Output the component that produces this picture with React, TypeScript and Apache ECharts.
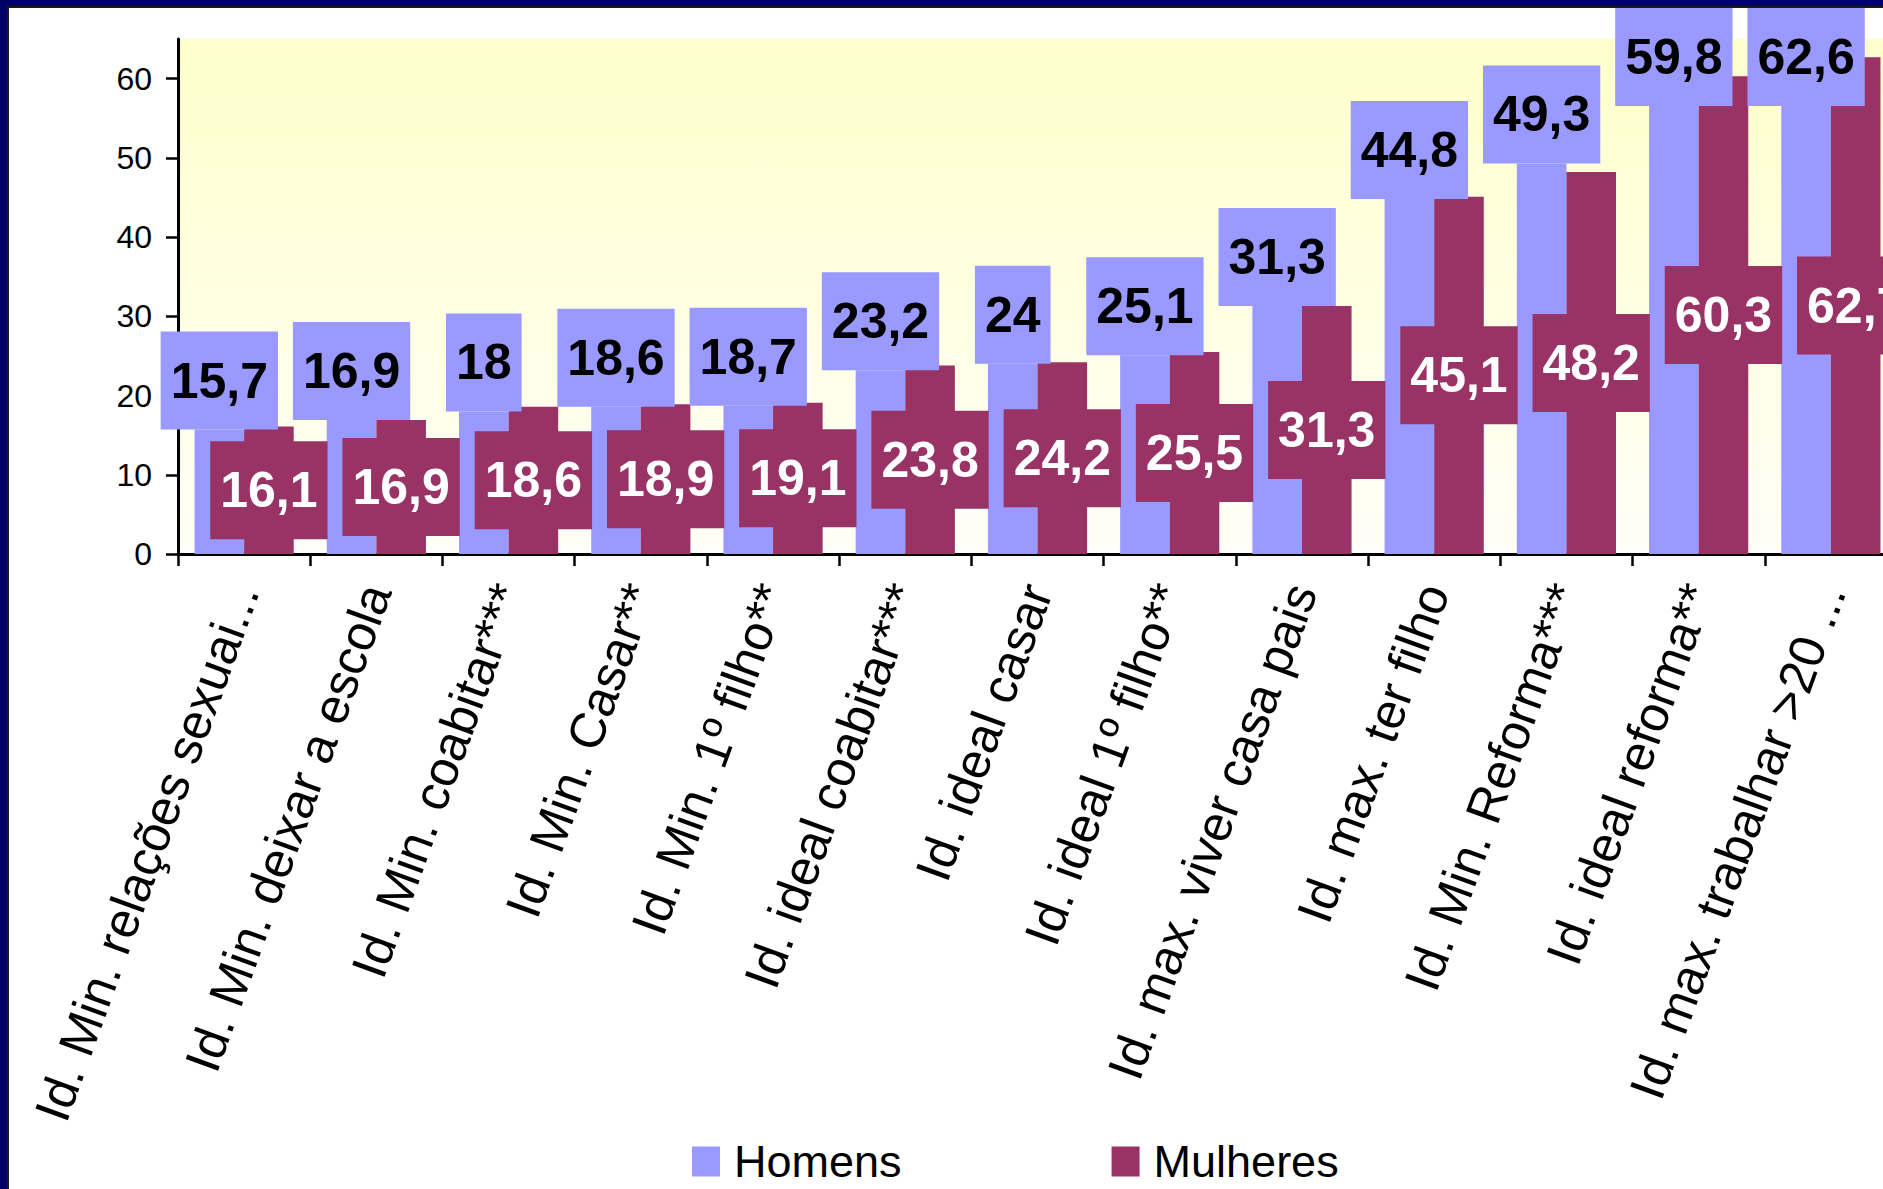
import React, { useEffect, useRef } from "react";
import * as echarts from "echarts";

const categories = [
  "Id. Min. relações sexuai...",
  "Id. Min. deixar a escola",
  "Id. Min. coabitar***",
  "Id. Min. Casar**",
  "Id. Min. 1º filho**",
  "Id. ideal coabitar***",
  "Id. ideal casar",
  "Id. ideal 1º filho**",
  "Id. max. viver casa pais",
  "Id. max. ter filho",
  "Id. Min. Reforma***",
  "Id. ideal reforma**",
  "Id. max. trabalhar >20 ...",
];
const homens = [15.7, 16.9, 18, 18.6, 18.7, 23.2, 24, 25.1, 31.3, 44.8, 49.3, 59.8, 62.6];
const mulheres = [16.1, 16.9, 18.6, 18.9, 19.1, 23.8, 24.2, 25.5, 31.3, 45.1, 48.2, 60.3, 62.7];
const yTicks = [0, 10, 20, 30, 40, 50, 60];
const seriesNames = ["Homens", "Mulheres"];

const BLUE = "#9999FF";
const MAROON = "#993366";
const NAVY = "#000066";
const FONT = "'Liberation Sans', Arial, sans-serif";
const TOP_LIMIT = 8;
const CHART_W = 1900;
const CHART_H = 1189;

const fmt = (p: any) => String(p.value).replace(".", ",");

export default function App() {
  const ref = useRef<HTMLDivElement>(null);
  useEffect(() => {
    if (!ref.current) return;
    const chart = echarts.init(ref.current, undefined, { renderer: "svg" });
    const clampTop = (params: any) => {
      const r = params.labelRect;
      if (r && r.y < TOP_LIMIT) return { dy: TOP_LIMIT - r.y };
      return {};
    };
    chart.setOption({
      animation: false,
      backgroundColor: "#FFFFFF",
      textStyle: { fontFamily: FONT },
      grid: {
        left: 178,
        top: 39,
        right: 3,
        bottom: 635,
        show: true,
        borderWidth: 0,
        backgroundColor: {
          type: "linear",
          x: 0,
          y: 0,
          x2: 0,
          y2: 1,
          colorStops: [
            { offset: 0, color: "#FFFFCC" },
            { offset: 1, color: "#FFFFF8" },
          ],
        },
      },
      legend: {
        data: seriesNames,
        left: 687,
        top: 1134,
        itemWidth: 28,
        itemHeight: 30,
        itemGap: 210,
        icon: "rect",
        textStyle: {
          fontSize: 45,
          lineHeight: 45,
          color: "#000000",
          fontFamily: FONT,
          padding: [0, 0, 0, 9],
        },
      },
      xAxis: {
        type: "category",
        data: categories,
        axisLine: { show: true, lineStyle: { color: "#000000", width: 3 } },
        axisTick: { show: true, length: 12, lineStyle: { color: "#000000", width: 2.5 } },
        axisLabel: {
          interval: 0,
          rotate: 70,
          margin: 32,
          fontSize: 50,
          color: "#000000",
          fontFamily: FONT,
        },
        splitLine: { show: false },
      },
      yAxis: {
        type: "value",
        min: 0,
        max: 65,
        interval: 10,
        axisLine: { show: true, lineStyle: { color: "#000000", width: 3 } },
        axisTick: {
          show: true,
          length: 12,
          customValues: yTicks,
          lineStyle: { color: "#000000", width: 2.5 },
        },
        axisLabel: {
          customValues: yTicks,
          margin: 26,
          fontSize: 32,
          color: "#000000",
          fontFamily: FONT,
        },
        splitLine: { show: false },
      },
      series: [
        {
          name: seriesNames[0],
          type: "bar",
          data: homens,
          barGap: "0%",
          barCategoryGap: "25%",
          itemStyle: { color: BLUE },
          label: {
            show: true,
            position: "top",
            distance: 0,
            formatter: fmt,
            color: "#000000",
            fontSize: 50,
            fontWeight: "bold",
            fontFamily: FONT,
            lineHeight: 50,
            backgroundColor: BLUE,
            padding: [24, 10],
          },
          labelLayout: clampTop,
        },
        {
          name: seriesNames[1],
          type: "bar",
          data: mulheres,
          barGap: "0%",
          barCategoryGap: "25%",
          itemStyle: { color: MAROON },
          label: {
            show: true,
            position: "inside",
            formatter: fmt,
            color: "#FFFFFF",
            fontSize: 50,
            fontWeight: "bold",
            fontFamily: FONT,
            lineHeight: 50,
            backgroundColor: MAROON,
            padding: [24, 10],
          },
        },
      ],
      graphic: [
        { type: "rect", left: 0, top: 0, shape: { width: CHART_W, height: 6 }, style: { fill: NAVY }, z: 100 },
        { type: "rect", left: 0, top: 6, shape: { width: CHART_W, height: 2 }, style: { fill: "#1a1a1a" }, z: 100 },
        { type: "rect", left: 0, top: 0, shape: { width: 7, height: CHART_H }, style: { fill: NAVY }, z: 100 },
        { type: "rect", left: 7, top: 6, shape: { width: 2, height: CHART_H - 6 }, style: { fill: "#1a1a1a" }, z: 100 },
      ],
    });
    return () => chart.dispose();
  }, []);
  return (
    <div style={{ position: "absolute", left: 0, top: 0, width: 1883, height: 1189, overflow: "hidden" }}>
      <div ref={ref} style={{ width: CHART_W, height: CHART_H }} />
    </div>
  );
}
